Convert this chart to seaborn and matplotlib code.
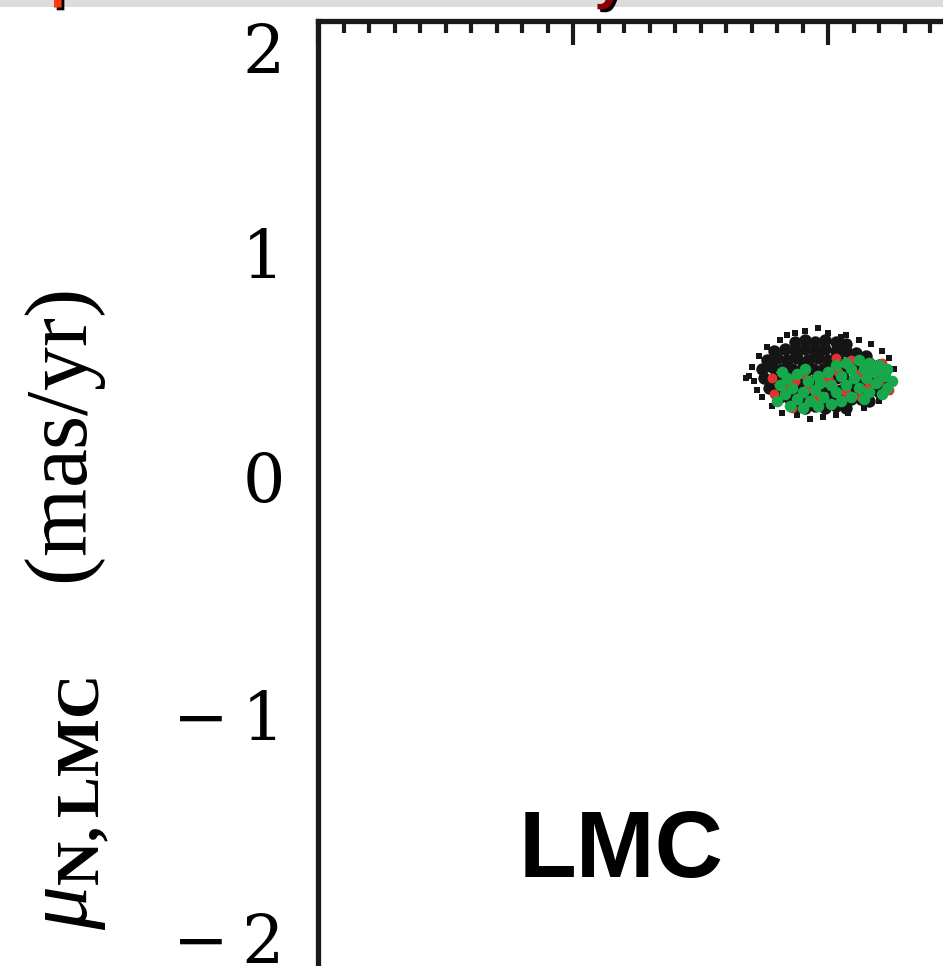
import numpy as np
import pandas as pd
import matplotlib
matplotlib.use("Agg")
import matplotlib.pyplot as plt
import matplotlib.patheffects as pe
import seaborn as sns
from matplotlib.patches import Rectangle
from matplotlib.ticker import MultipleLocator, FixedLocator, FixedFormatter
from matplotlib.transforms import ScaledTranslation

# proper-motion samples (mu_W, mu_N) in mas/yr
black_core = [
    (-2.13, 0.59), (-2.09, 0.60), (-2.05, 0.59), (-2.01, 0.60), (-1.97, 0.59), (-1.93, 0.58),
    (-2.21, 0.55), (-2.17, 0.56), (-2.13, 0.55), (-2.09, 0.56), (-2.05, 0.55), (-2.01, 0.56),
    (-1.97, 0.55), (-1.93, 0.55), (-1.89, 0.54), (-1.85, 0.53),
    (-2.24, 0.51), (-2.20, 0.52), (-2.16, 0.51), (-2.12, 0.52), (-2.08, 0.51), (-2.04, 0.52),
    (-2.00, 0.51), (-1.96, 0.51), (-1.92, 0.50), (-1.88, 0.51), (-1.84, 0.50), (-1.80, 0.49),
    (-2.26, 0.47), (-2.22, 0.48), (-2.18, 0.47), (-2.14, 0.47), (-2.10, 0.48), (-2.06, 0.47),
    (-2.02, 0.47), (-1.98, 0.47), (-1.94, 0.46), (-1.90, 0.47), (-1.86, 0.46), (-1.82, 0.46),
    (-1.78, 0.45),
    (-2.25, 0.43), (-2.21, 0.43), (-2.17, 0.44), (-2.13, 0.43), (-2.09, 0.43), (-2.05, 0.42),
    (-2.01, 0.43), (-1.97, 0.43), (-1.93, 0.42), (-1.89, 0.43), (-1.85, 0.42), (-1.81, 0.42),
    (-1.78, 0.41),
    (-2.23, 0.39), (-2.19, 0.39), (-2.15, 0.38), (-2.11, 0.39), (-2.07, 0.39), (-2.03, 0.38),
    (-1.99, 0.39), (-1.95, 0.38), (-1.91, 0.39), (-1.87, 0.38), (-1.83, 0.38), (-1.80, 0.37),
    (-2.19, 0.35), (-2.15, 0.34), (-2.11, 0.35), (-2.07, 0.34), (-2.03, 0.35), (-1.99, 0.34),
    (-1.95, 0.35), (-1.91, 0.34), (-1.87, 0.34), (-1.84, 0.33),
    (-2.13, 0.31), (-2.09, 0.30), (-2.05, 0.31), (-2.01, 0.30), (-1.97, 0.31), (-1.93, 0.30),
]
black_halo = [
    (-2.13, 0.63), (-2.09, 0.64), (-2.00, 0.63), (-1.93, 0.62), (-1.88, 0.60), (-1.83, 0.58),
    (-2.19, 0.60), (-2.24, 0.57), (-2.27, 0.53), (-2.30, 0.48), (-2.32, 0.43), (-2.29, 0.42),
    (-2.28, 0.38), (-2.26, 0.35), (-2.22, 0.31), (-2.18, 0.28), (-2.12, 0.27), (-2.07, 0.25),
    (-2.02, 0.26), (-1.97, 0.27), (-1.92, 0.28), (-1.86, 0.30), (-1.80, 0.33), (-1.76, 0.37),
    (-1.74, 0.42), (-1.74, 0.47), (-1.76, 0.52), (-1.79, 0.55), (-2.04, 0.65), (-2.16, 0.62),
    (-1.95, 0.61), (-2.31, 0.44),
]
green_pts = [
    (-1.93, 0.50), (-1.88, 0.51), (-1.84, 0.50), (-1.80, 0.49), (-1.77, 0.47), (-1.91, 0.47),
    (-1.86, 0.47), (-1.82, 0.46), (-1.78, 0.44), (-1.75, 0.42), (-1.95, 0.44), (-1.90, 0.43),
    (-1.85, 0.43), (-1.81, 0.41), (-1.77, 0.39), (-1.93, 0.40), (-1.88, 0.39), (-1.84, 0.37),
    (-1.79, 0.36), (-1.97, 0.37), (-1.91, 0.35), (-1.86, 0.34), (-1.95, 0.33), (-1.99, 0.40),
    (-2.00, 0.46), (-1.97, 0.49),
    (-2.04, 0.44), (-2.08, 0.42), (-2.12, 0.45), (-2.16, 0.43), (-2.19, 0.40), (-2.14, 0.39),
    (-2.10, 0.37), (-2.05, 0.38), (-2.02, 0.35), (-2.07, 0.33), (-2.12, 0.34), (-2.17, 0.36),
    (-2.20, 0.33), (-2.15, 0.31), (-2.10, 0.30), (-2.04, 0.31), (-1.99, 0.32), (-2.03, 0.41),
    (-2.09, 0.47), (-2.18, 0.46),
]
red_pts = [
    (-2.22, 0.43), (-2.21, 0.36), (-2.17, 0.40), (-2.13, 0.42), (-2.08, 0.39), (-2.00, 0.43),
    (-1.96, 0.46), (-1.91, 0.51), (-1.88, 0.45), (-1.84, 0.40), (-1.80, 0.42), (-1.76, 0.38),
    (-1.83, 0.47), (-1.79, 0.50), (-1.93, 0.37), (-2.05, 0.35), (-1.99, 0.41), (-2.14, 0.30),
    (-1.87, 0.35), (-1.97, 0.52), (-2.10, 0.45), (-1.78, 0.46),
]

ytick_vals = [-2, -1, 0, 1, 2]
ytick_text = ["\u2212\u20092", "\u2212\u20091", "0", "1", "2"]
ytick_drop_px = [6, 10, 0, 4, 26]   # how far each label sits below its tick


def to_df(pts):
    return pd.DataFrame(pts, columns=["mu_w", "mu_n"])


sns.set_style("white")
plt.rcParams["font.family"] = ["DejaVu Serif"]
plt.rcParams["mathtext.fontset"] = "custom"
plt.rcParams["mathtext.rm"] = "Liberation Serif"
plt.rcParams["mathtext.it"] = "Liberation Serif:italic"
plt.rcParams["mathtext.bf"] = "Liberation Serif:bold"
for k in ["text.color", "axes.labelcolor", "xtick.color", "ytick.color"]:
    plt.rcParams[k] = "black"

W, H = 943, 966
fig = plt.figure(figsize=(W / 100, H / 100), dpi=100)

# axes extends past the crop on the right and bottom
ax = fig.add_axes([318 / W, 1 - 21 / H - 1024.6 / H, 765 / W, 1024.6 / H])
ax.set_xlim(-4, -1)
ax.set_ylim(-2.5, 2)

sns.scatterplot(data=to_df(black_core), x="mu_w", y="mu_n", ax=ax, color="#151515",
                s=80, linewidth=0, marker="o")
sns.scatterplot(data=to_df(black_halo), x="mu_w", y="mu_n", ax=ax, color="#151515",
                s=14, linewidth=0, marker="s")
sns.scatterplot(data=to_df(red_pts), x="mu_w", y="mu_n", ax=ax, color="#e8312f",
                s=50, linewidth=0)
sns.scatterplot(data=to_df(green_pts), x="mu_w", y="mu_n", ax=ax, color="#16a84a",
                s=70, linewidth=0)

ax.text(-2.812, -1.759, "LMC", fontsize=68, fontweight="bold", family="Liberation Sans",
        color="black", ha="center", va="baseline")

for sp in ax.spines.values():
    sp.set_linewidth(3.8)
    sp.set_color("#1a1a1a")

ax.xaxis.set_major_locator(MultipleLocator(1))
ax.xaxis.set_minor_locator(MultipleLocator(0.1))
ax.yaxis.set_major_locator(FixedLocator(ytick_vals))
ax.yaxis.set_major_formatter(FixedFormatter(ytick_text))
ax.yaxis.set_minor_locator(MultipleLocator(0.1))
ax.tick_params(which="both", direction="in", top=True, right=True, color="#1a1a1a")
ax.tick_params(which="major", length=17, width=3, labelsize=48, pad=24)
ax.tick_params(which="minor", length=8.6, width=3)
ax.set_xlabel("")
ax.set_ylabel("")

fig.canvas.draw()
for tick, drop in zip(ax.yaxis.get_major_ticks(), ytick_drop_px):
    lab = tick.label1
    lab.set_transform(lab.get_transform() + ScaledTranslation(0, -drop / 100, fig.dpi_scale_trans))

fig.text(67 / W, 1 - 610 / H, r"$\mu_{\mathbf{N,LMC}}$    (mas/yr)", rotation=90,
         ha="center", va="center", fontsize=63, family="Liberation Serif")

# grey slide band at the very top with bits of the cut-off title
fig.patches.append(Rectangle((0, 1 - 7 / H), 1, 7 / H, transform=fig.transFigure,
                             facecolor="#dcdcdc", edgecolor="none", zorder=0))
shadow = [pe.withSimplePatchShadow(offset=(2, -2), shadow_rgbFace="black", alpha=1)]
fig.text(67 / W, 1 + 4 / H, "p", fontsize=40, fontweight="bold", family="Liberation Sans",
         color="#ff3a10", ha="center", va="baseline", path_effects=shadow)
fig.text(610 / W, 1 + 2 / H, "y", fontsize=40, fontweight="bold", family="Liberation Sans",
         color="#8b0000", ha="center", va="baseline", path_effects=shadow)

fig.savefig("out.png", dpi=100)
